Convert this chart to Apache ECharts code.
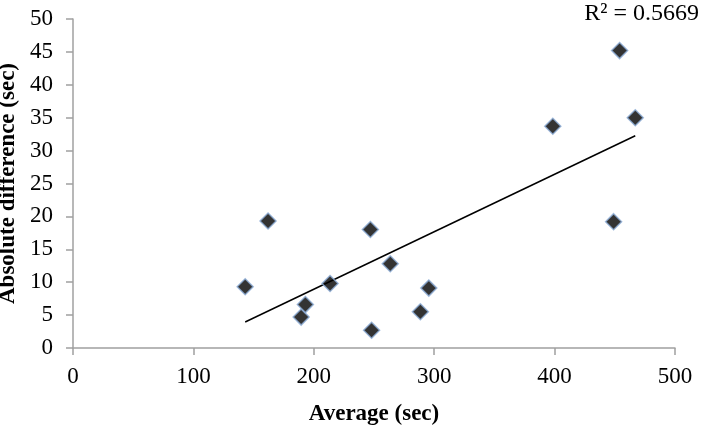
<!DOCTYPE html>
<html>
<head>
<meta charset="utf-8">
<script src="https://cdn.jsdelivr.net/npm/echarts@6/dist/echarts.min.js"></script>
<style>
  html, body { margin: 0; padding: 0; background: #fff; }
  #chart { width: 715px; height: 434px; }
</style>
</head>
<body>
<div id="chart"></div>
<script>
// values
var average = [143, 162, 189.5, 193, 213.5, 247, 248, 263.5, 288.5, 295.5, 449, 398.5, 454, 467];
var absDiff = [9.3, 19.3, 4.7, 6.6, 9.8, 18.0, 2.7, 12.8, 5.5, 9.1, 19.2, 33.7, 45.2, 35.0];
var r2Label = "R² = 0.5669";

var points = average.map(function (x, i) { return [x, absDiff[i]]; });

// linear trend line (least squares) over the data range
var n = average.length, sx = 0, sy = 0, sxx = 0, sxy = 0;
for (var i = 0; i < n; i++) {
  sx += average[i]; sy += absDiff[i];
  sxx += average[i] * average[i]; sxy += average[i] * absDiff[i];
}
var slope = (n * sxy - sx * sy) / (n * sxx - sx * sx);
var intercept = (sy - slope * sx) / n;
var xMin = Math.min.apply(null, average), xMax = Math.max.apply(null, average);
var trend = [[xMin, intercept + slope * xMin], [xMax, intercept + slope * xMax]];

var chart = echarts.init(document.getElementById("chart"));
var font = "'Liberation Serif', 'Times New Roman', serif";
var option = {
  animation: false,
  grid: { left: 73, right: 40, top: 19, bottom: 86, containLabel: false, outerBoundsMode: "none" },
  xAxis: {
    type: "value",
    min: 0, max: 500, interval: 100,
    name: "Average (sec)",
    nameLocation: "middle",
    nameGap: 55,
    nameTextStyle: { fontFamily: font, fontWeight: "bold", fontSize: 23, color: "#000" },
    axisLine: { lineStyle: { color: "#a0a0a0", width: 1.5 } },
    axisTick: { show: true, inside: false, length: 7, lineStyle: { color: "#a0a0a0", width: 1.5 } },
    axisLabel: { fontFamily: font, fontSize: 23, color: "#000", margin: 17 },
    splitLine: { show: false }
  },
  yAxis: {
    type: "value",
    min: 0, max: 50, interval: 5,
    name: "Absolute difference (sec)",
    nameLocation: "middle",
    nameGap: 52,
    nameTextStyle: { fontFamily: font, fontWeight: "bold", fontSize: 23, color: "#000" },
    axisLine: { show: true, lineStyle: { color: "#a0a0a0", width: 1.5 } },
    axisTick: { show: true, inside: false, length: 7, lineStyle: { color: "#a0a0a0", width: 1.5 } },
    axisLabel: { fontFamily: font, fontSize: 23, color: "#000", margin: 20 },
    splitLine: { show: false }
  },
  graphic: [{
    type: "text",
    right: 16, top: 2,
    style: { text: r2Label, fontFamily: font, fontSize: 24, fill: "#000" }
  }],
  series: [
    {
      type: "line",
      data: trend,
      symbol: "none",
      lineStyle: { color: "#000", width: 1.5 },
      z: 1
    },
    {
      type: "scatter",
      data: points,
      symbol: "diamond",
      symbolSize: 16,
      itemStyle: { color: "#000", borderColor: "#8aaad4", borderWidth: 1.5 },
      z: 2
    }
  ]
};
chart.setOption(option);
</script>
</body>
</html>
